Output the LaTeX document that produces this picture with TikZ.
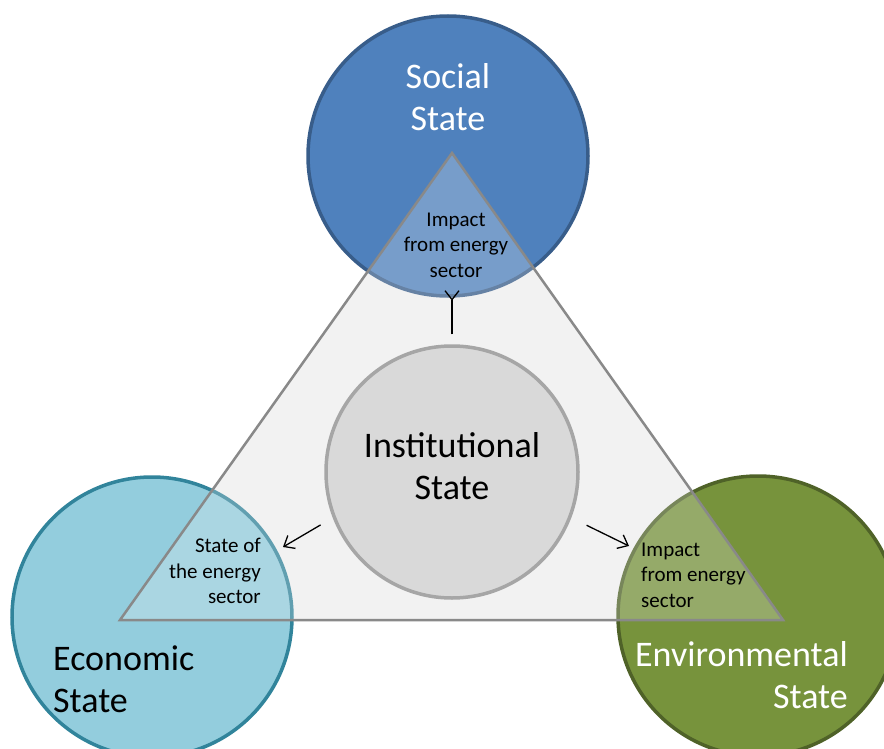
\documentclass[tikz,border=0pt]{standalone}
\usepackage{fontspec}
\setmainfont{Carlito}
\usetikzlibrary{positioning, arrows.meta}
\definecolor{socialblue}{HTML}{4F81BD}
\definecolor{socialedge}{HTML}{385D8A}
\definecolor{ecoblue}{HTML}{93CDDD}
\definecolor{ecoedge}{HTML}{31849B}
\definecolor{envgreen}{HTML}{77933C}
\definecolor{envedge}{HTML}{4F6228}
\definecolor{instgray}{HTML}{D9D9D9}
\definecolor{instedge}{HTML}{A6A6A6}
\definecolor{trifill}{HTML}{F2F2F2}
\definecolor{triedge}{HTML}{898989}

\begin{document}
\begin{tikzpicture}[x=1pt, y=-1pt,
    state/.style={circle, draw, line width=3.5pt, minimum size=280pt, inner sep=0pt},
    bigtext/.style={font=\fontsize{36}{42}\selectfont, inner sep=0pt},
    smalltext/.style={font=\fontsize{21}{25.5}\selectfont, inner sep=0pt},
    link/.style={line width=1.3pt, -{Straight Barb[length=9pt, width=15pt]}}]
  \useasboundingbox (0,0) rectangle (884,749);
  % triangle behind the circles
  \coordinate (top) at (452,153);
  \coordinate (left) at (120,620);
  \coordinate (right) at (783,620);
  \fill[trifill] (top) -- (left) -- (right) -- cycle;
  \node[state, fill=socialblue, draw=socialedge] (social) at (448,156) {};
  \node[state, fill=ecoblue, draw=ecoedge] (economic) at (152,617) {};
  \node[state, fill=envgreen, draw=envedge] (environmental) at (758,616) {};
  % lighter where the triangle lies over the circles
  \fill[trifill, opacity=.25] (top) -- (left) -- (right) -- cycle;
  \draw[triedge, line width=2.5pt] (top) -- (left) -- (right) -- cycle;
  \node[state, minimum size=252pt, fill=instgray, draw=instedge] (inst) at (452,472) {};

  \node[bigtext, text=white, align=center] (sociallabel) at (448,97) {Social\\State};
  \node[bigtext, align=center] (instlabel) at (452,466) {Institutional\\State};
  \node[bigtext, align=left, anchor=west] (econlabel) at (53,679) {Economic\\State};
  \node[bigtext, text=white, align=right, anchor=east] (envlabel) at (848,675) {Environmental\\State};
  \node[smalltext, align=center] (socimpact) at (456,245) {Impact\\from energy\\sector};
  \node[smalltext, align=right, anchor=east] (ecosector) at (261,571) {State of\\the energy\\sector};
  \node[smalltext, align=left, anchor=west] (envimpact) at (641,575) {Impact\\from energy\\sector};

  \coordinate (socend) at (452,290);
  \coordinate (ecoend) at (283,547);
  \coordinate (envend) at (629,546);
  \draw[link, -{Straight Barb[reversed, length=9pt, width=14pt]}] ([yshift=10pt]inst.north) -- (socend);
  \draw[link, shorten <=14pt] (inst.201) -- (ecoend);
  \draw[link, shorten <=17pt] (inst.-21) -- (envend);
\end{tikzpicture}
\end{document}
